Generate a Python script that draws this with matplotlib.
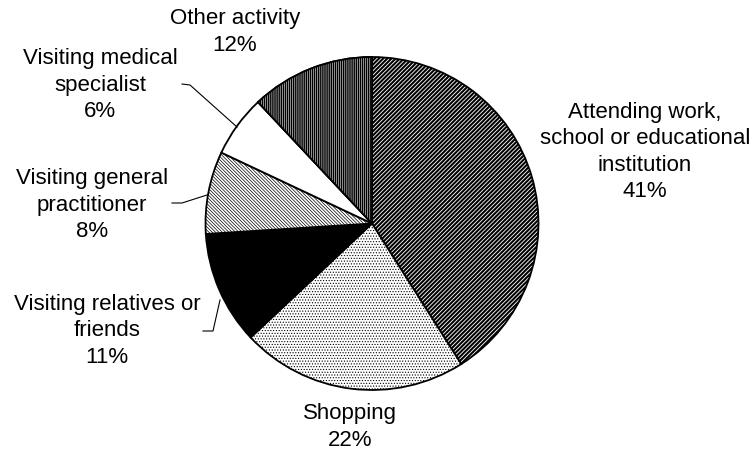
#!/usr/bin/env python3
"""
Torta delle attivita' - motivo dello spostamento
"""

import matplotlib
matplotlib.use("Agg")
import matplotlib.pyplot as plt
from matplotlib.patches import Wedge

# Dati
categories = [
    "Attending work,\nschool or educational\ninstitution",
    "Shopping",
    "Visiting relatives or\nfriends",
    "Visiting general\npractitioner",
    "Visiting medical\nspecialist",
    "Other activity",
]
shares = [41, 22, 11, 8, 6, 12]

# Stile di ogni spicchio: colore pieno e trama nera
faces = ["white", "white", "black", "white", "white", "black"]
hatches = ["/" * 8, "." * 6, None, "\\" * 10, None, None]

# Posizione delle etichette in pixel (x, y centro blocco)
label_pos = [(645, 152), (350, 427), (107, 331), (92, 205), (100, 85), (235, 32)]

W, H = 752, 450
plt.rcParams['font.family'] = ['Liberation Sans', 'DejaVu Sans']

fig = plt.figure(figsize=(W / 100, H / 100), dpi=100)
ax = fig.add_axes([0, 0, 1, 1])

cx, cy, r = 372, H - 223.5, 166.5

wedges, _ = ax.pie(shares, center=(cx, cy), radius=r, startangle=90,
                   counterclock=False, colors=faces,
                   wedgeprops=dict(edgecolor='black', linewidth=1.3))

ax.set_xlim(0, W)
ax.set_ylim(0, H)
ax.set_aspect('equal')
ax.axis('off')

hatch_lw = [1.5, 0.5, None, 0.5, None, None]
for w, h, lw in zip(wedges, hatches, hatch_lw):
    if h:
        w.set_hatch(h)
        if hasattr(w, 'set_hatch_linewidth'):
            w.set_hatch_linewidth(lw)

# "Other activity": fondo nero con trama bianca verticale
other = wedges[5]
overlay = Wedge((cx, cy), r, other.theta1, other.theta2, fill=False,
                hatch='|' * 8, edgecolor='white', linewidth=0)
if hasattr(overlay, 'set_hatch_linewidth'):
    overlay.set_hatch_linewidth(0.4)
ax.add_patch(overlay)
# ridisegna il bordo sopra la trama
ax.add_patch(Wedge((cx, cy), r, other.theta1, other.theta2, fill=False,
                   edgecolor='black', linewidth=1.3))

# Etichette
for name, val, (x, y) in zip(categories, shares, label_pos):
    ax.text(x, H - y, f"{name}\n{val}%", ha='center', va='center',
            fontsize=16, color='black', linespacing=1.32)

# Linee guida per le etichette piccole
leaders = [
    [(182, 84), (190, 85), (237, 127)],
    [(172, 203), (182, 203), (207, 195)],
    [(203, 331), (213, 331), (220, 300)],
]
for pts in leaders:
    xs = [p[0] for p in pts]
    ys = [H - p[1] for p in pts]
    ax.plot(xs, ys, color='black', linewidth=0.8)

fig.savefig("out.png", dpi=100)
plt.close(fig)
